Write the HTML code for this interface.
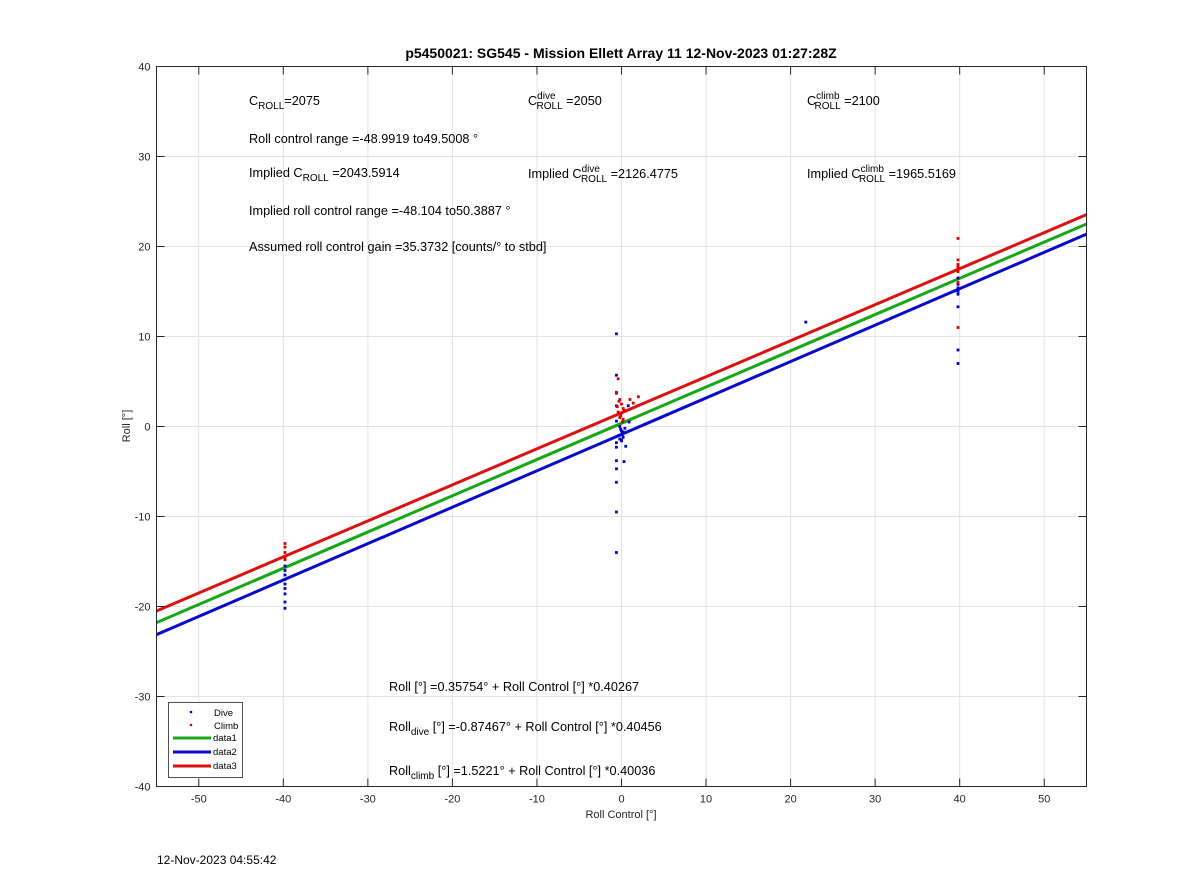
<!DOCTYPE html>
<html><head><meta charset="utf-8"><style>
body{margin:0;background:#fff;}
svg{display:block;font-family:"Liberation Sans",Arial,sans-serif;}
</style></head><body>
<svg id="chart" width="1200" height="885">
<rect width="1200" height="885" fill="#fff"/>
<g id="grid"></g>
<g id="lines"></g>
<g id="pts"></g>
<rect x="156.5" y="66.5" width="930" height="720" fill="none" stroke="#262626" stroke-width="1"/>
<g id="ticks" font-size="11" fill="#262626"></g>
<text x="621" y="58" font-size="14" font-weight="bold" text-anchor="middle" fill="#000">p5450021: SG545 - Mission Ellett Array 11 12-Nov-2023 01:27:28Z</text>
<text x="621" y="818" font-size="11" text-anchor="middle" fill="#262626">Roll Control [°]</text>
<text transform="translate(130,426) rotate(-90)" font-size="11" text-anchor="middle" fill="#262626">Roll [°]</text>
<text x="157" y="864" font-size="12" fill="#000">12-Nov-2023 04:55:42</text>
<g font-size="12.7" fill="#000">
<text x="249" y="105">C<tspan font-size="10" dy="4">ROLL</tspan><tspan dy="-4">=2075</tspan></text>
<text x="528" y="105">C<tspan font-size="10" dy="-6">dive</tspan><tspan font-size="10" dx="-19" dy="10">ROLL</tspan><tspan dy="-4"> =2050</tspan></text>
<text x="807" y="105">C<tspan font-size="10" dy="-6">climb</tspan><tspan font-size="10" dx="-25" dy="10">ROLL</tspan><tspan dy="-4"> =2100</tspan></text>
<text x="249" y="143">Roll control range =-48.9919 to49.5008 °</text>
<text x="249" y="177">Implied C<tspan font-size="10" dy="4">ROLL</tspan><tspan dy="-4"> =2043.5914</tspan></text>
<text x="528" y="178">Implied C<tspan font-size="10" dy="-6">dive</tspan><tspan font-size="10" dx="-19" dy="10">ROLL</tspan><tspan dy="-4"> =2126.4775</tspan></text>
<text x="807" y="178">Implied C<tspan font-size="10" dy="-6">climb</tspan><tspan font-size="10" dx="-25" dy="10">ROLL</tspan><tspan dy="-4"> =1965.5169</tspan></text>
<text x="249" y="215">Implied roll control range =-48.104 to50.3887 °</text>
<text x="249" y="251">Assumed roll control gain =35.3732 [counts/° to stbd]</text>
<text x="389" y="691">Roll [°] =0.35754° + Roll Control [°] *0.40267</text>
<text x="389" y="731">Roll<tspan font-size="10" dy="4">dive</tspan><tspan dy="-4"> [°] =-0.87467° + Roll Control [°] *0.40456</tspan></text>
<text x="389" y="775">Roll<tspan font-size="10" dy="4">climb</tspan><tspan dy="-4"> [°] =1.5221° + Roll Control [°] *0.40036</tspan></text>
</g>
<g>
<rect x="168.5" y="702.5" width="74" height="75" fill="#fff" stroke="#262626" stroke-width="0.8"/>
<circle cx="191" cy="712" r="1.3" fill="#0000cc"/><text x="214" y="716" font-size="9.5" fill="#000">Dive</text>
<circle cx="191" cy="725" r="1.3" fill="#cc0000"/><text x="214" y="729" font-size="9.5" fill="#000">Climb</text>
<line x1="173" y1="738" x2="211" y2="738" stroke="#17a817" stroke-width="3"/><text x="213" y="741" font-size="9.5" fill="#000">data1</text>
<line x1="173" y1="752" x2="211" y2="752" stroke="#0a0acc" stroke-width="3"/><text x="213" y="755" font-size="9.5" fill="#000">data2</text>
<line x1="173" y1="766" x2="211" y2="766" stroke="#dd1111" stroke-width="3"/><text x="213" y="769" font-size="9.5" fill="#000">data3</text>
</g>
</svg>
<script>
const xTicks=[-50,-40,-30,-20,-10,0,10,20,30,40,50];
const yTicks=[-40,-30,-20,-10,0,10,20,30,40];
const fitIntercepts=[0.35754,-0.87467,1.5221];
const fitSlopes=[0.40267,0.40456,0.40036];
const fitNames=['data1','data2','data3'];
const diveX=[-39.8,-39.8,-39.8,-39.8,-39.8,-39.8,-39.8,-39.8,-39.8,-0.6,-0.6,-0.6,-0.6,-0.6,-0.6,-0.6,-0.6,-0.6,-0.6,-0.6,-0.3,0.0,0.2,-0.2,0.1,0.3,-0.1,0.1,-0.2,0.2,0.0,0.4,21.8,39.8,39.8,39.8,39.8,39.8,39.8,39.8,39.8,0.5,-0.6,0.0,0.9,0.8];
const diveY=[-16.0,-16.5,-17.0,-17.5,-18.0,-18.6,-19.5,-20.2,-15.5,10.3,5.7,3.7,2.3,-1.8,-2.3,-3.8,-4.7,-6.2,-9.5,-14.0,-1.0,-0.5,-1.2,0.0,-0.8,-3.9,-0.3,-0.9,-1.4,-0.6,-1.6,-0.2,11.6,16.5,15.8,15.4,15.0,14.7,13.3,8.5,7.0,-2.2,0.6,-1.5,0.5,2.3];
const climbX=[-39.8,-39.8,-39.8,-39.8,-39.8,-0.6,-0.4,-0.2,0.0,0.2,0.0,-0.2,0.1,-0.3,0.3,1.0,2.0,1.4,-0.5,-0.1,0.2,-0.4,39.8,39.8,39.8,39.8,39.8,39.8,39.8,39.8];
const climbY=[-13.0,-13.4,-14.0,-14.5,-14.8,3.8,5.3,3.0,2.5,2.0,1.5,1.0,0.5,2.8,1.8,3.0,3.3,2.6,2.2,1.2,0.8,1.6,20.9,18.5,18.0,17.8,17.5,17.2,16.0,11.0];
const X0=156.5,X1=1086.5,Y0=66.5,Y1=786.5,XMIN=-55,XMAX=55,YMIN=-40,YMAX=40;
const sx=v=>X0+(v-XMIN)/(XMAX-XMIN)*(X1-X0);
const sy=v=>Y1-(v-YMIN)/(YMAX-YMIN)*(Y1-Y0);
const NS='http://www.w3.org/2000/svg';
function mk(t,a,p){const e=document.createElementNS(NS,t);for(const k in a)e.setAttribute(k,a[k]);p.appendChild(e);return e;}
const grid=document.getElementById('grid'),ticks=document.getElementById('ticks'),lines=document.getElementById('lines'),pts=document.getElementById('pts');
xTicks.forEach(v=>{const x=sx(v);
 const g=mk('line',{x1:x,x2:x,y1:Y0,y2:Y1,stroke:'#e3e3e3','stroke-width':1},grid);
 
 
 mk('line',{x1:x,x2:x,y1:Y1,y2:Y1-8,stroke:'#262626'},ticks);
 mk('line',{x1:x,x2:x,y1:Y0,y2:Y0+8,stroke:'#262626'},ticks);
 const t=mk('text',{x:x,y:Y1+16,'text-anchor':'middle'},ticks);t.textContent=v;
 
 });
yTicks.forEach(v=>{const y=sy(v);
 const g=mk('line',{x1:X0,x2:X1,y1:y,y2:y,stroke:'#e3e3e3','stroke-width':1},grid);
 
 
 mk('line',{x1:X0,x2:X0+8,y1:y,y2:y,stroke:'#262626'},ticks);
 mk('line',{x1:X1,x2:X1-8,y1:y,y2:y,stroke:'#262626'},ticks);
 const t=mk('text',{x:X0-6,y:y+4,'text-anchor':'end'},ticks);t.textContent=v;
 
 });
const cols=['#17a817','#0a0acc','#dd1111'];
fitIntercepts.forEach((b,i)=>{const m=fitSlopes[i];
 const l=mk('line',{x1:sx(XMIN),y1:sy(b+m*XMIN),x2:sx(XMAX),y2:sy(b+m*XMAX),stroke:cols[i],'stroke-width':3},lines);
 
 });
diveX.forEach((x,i)=>{const c=mk('rect',{x:sx(x)-1.4,y:sy(diveY[i])-1.4,width:2.8,height:2.8,fill:'#0000cc'},pts);
 
 });
climbX.forEach((x,i)=>{const c=mk('rect',{x:sx(x)-1.4,y:sy(climbY[i])-1.4,width:2.8,height:2.8,fill:'#dd0000'},pts);
 
 });
</script>
</body></html>
